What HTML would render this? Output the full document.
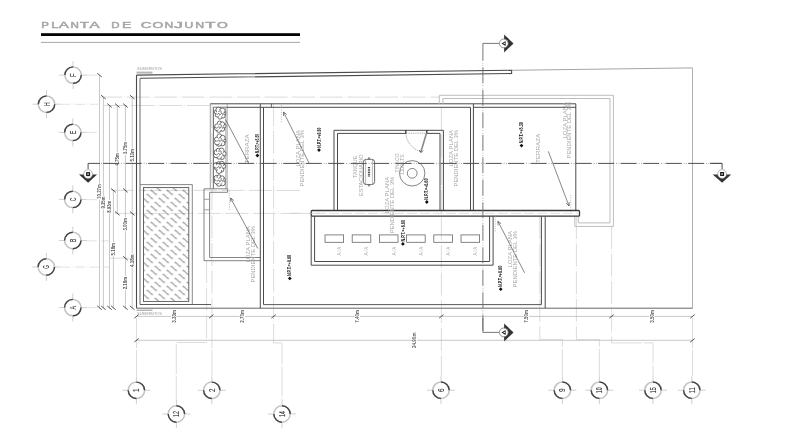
<!DOCTYPE html>
<html><head><meta charset="utf-8"><style>
html,body{margin:0;padding:0;background:#fff;width:800px;height:448px;overflow:hidden}
svg{display:block;font-family:"Liberation Sans",sans-serif;will-change:transform}
</style></head><body>
<svg width="800" height="448" viewBox="0 0 800 448">
<defs><pattern id="hatch" patternUnits="userSpaceOnUse" width="16" height="16" x="146.6" y="242.3"><g stroke="#4c4c4c" stroke-width="0.9" fill="none"><path d="M-16,-16 c3,0 3.25,4.3 6.25,4.3"/><path d="M-16,0 c3,0 3.25,4.3 6.25,4.3"/><path d="M-16,16 c3,0 3.25,4.3 6.25,4.3"/><path d="M0,-16 c3,0 3.25,4.3 6.25,4.3"/><path d="M0,0 c3,0 3.25,4.3 6.25,4.3"/><path d="M0,16 c3,0 3.25,4.3 6.25,4.3"/><path d="M16,-16 c3,0 3.25,4.3 6.25,4.3"/><path d="M16,0 c3,0 3.25,4.3 6.25,4.3"/><path d="M16,16 c3,0 3.25,4.3 6.25,4.3"/><path d="M-4,-12 c3,0 3.25,4.3 6.25,4.3"/><path d="M-4,4 c3,0 3.25,4.3 6.25,4.3"/><path d="M-4,20 c3,0 3.25,4.3 6.25,4.3"/><path d="M12,-12 c3,0 3.25,4.3 6.25,4.3"/><path d="M12,4 c3,0 3.25,4.3 6.25,4.3"/><path d="M12,20 c3,0 3.25,4.3 6.25,4.3"/><path d="M28,-12 c3,0 3.25,4.3 6.25,4.3"/><path d="M28,4 c3,0 3.25,4.3 6.25,4.3"/><path d="M28,20 c3,0 3.25,4.3 6.25,4.3"/><path d="M-8,-8 c3,0 3.25,4.3 6.25,4.3"/><path d="M-8,8 c3,0 3.25,4.3 6.25,4.3"/><path d="M-8,24 c3,0 3.25,4.3 6.25,4.3"/><path d="M8,-8 c3,0 3.25,4.3 6.25,4.3"/><path d="M8,8 c3,0 3.25,4.3 6.25,4.3"/><path d="M8,24 c3,0 3.25,4.3 6.25,4.3"/><path d="M24,-8 c3,0 3.25,4.3 6.25,4.3"/><path d="M24,8 c3,0 3.25,4.3 6.25,4.3"/><path d="M24,24 c3,0 3.25,4.3 6.25,4.3"/><path d="M-12,-4 c3,0 3.25,4.3 6.25,4.3"/><path d="M-12,12 c3,0 3.25,4.3 6.25,4.3"/><path d="M-12,28 c3,0 3.25,4.3 6.25,4.3"/><path d="M4,-4 c3,0 3.25,4.3 6.25,4.3"/><path d="M4,12 c3,0 3.25,4.3 6.25,4.3"/><path d="M4,28 c3,0 3.25,4.3 6.25,4.3"/><path d="M20,-4 c3,0 3.25,4.3 6.25,4.3"/><path d="M20,12 c3,0 3.25,4.3 6.25,4.3"/><path d="M20,28 c3,0 3.25,4.3 6.25,4.3"/></g></pattern></defs>
<rect width="800" height="448" fill="#fff"/>
<text x="41.35" y="27.9" font-size="9.5" fill="#a6a6a6" stroke="#a6a6a6" stroke-width="0.5" textLength="7.65" lengthAdjust="spacingAndGlyphs">P</text>
<text x="51.35" y="27.9" font-size="9.5" fill="#a6a6a6" stroke="#a6a6a6" stroke-width="0.5" textLength="7.05" lengthAdjust="spacingAndGlyphs">L</text>
<text x="58.85" y="27.9" font-size="9.5" fill="#a6a6a6" stroke="#a6a6a6" stroke-width="0.5" textLength="10.15" lengthAdjust="spacingAndGlyphs">A</text>
<text x="70.6" y="27.9" font-size="9.5" fill="#a6a6a6" stroke="#a6a6a6" stroke-width="0.5" textLength="8.4" lengthAdjust="spacingAndGlyphs">N</text>
<text x="80.1" y="27.9" font-size="9.5" fill="#a6a6a6" stroke="#a6a6a6" stroke-width="0.5" textLength="8.9" lengthAdjust="spacingAndGlyphs">T</text>
<text x="89.5" y="27.9" font-size="9.5" fill="#a6a6a6" stroke="#a6a6a6" stroke-width="0.5" textLength="10.15" lengthAdjust="spacingAndGlyphs">A</text>
<text x="111.35" y="27.9" font-size="9.5" fill="#a6a6a6" stroke="#a6a6a6" stroke-width="0.5" textLength="8.3" lengthAdjust="spacingAndGlyphs">D</text>
<text x="122" y="27.9" font-size="9.5" fill="#a6a6a6" stroke="#a6a6a6" stroke-width="0.5" textLength="9.4" lengthAdjust="spacingAndGlyphs">E</text>
<text x="140.85" y="27.9" font-size="9.5" fill="#a6a6a6" stroke="#a6a6a6" stroke-width="0.5" textLength="10.8" lengthAdjust="spacingAndGlyphs">C</text>
<text x="152.6" y="27.9" font-size="9.5" fill="#a6a6a6" stroke="#a6a6a6" stroke-width="0.5" textLength="10.8" lengthAdjust="spacingAndGlyphs">O</text>
<text x="164.6" y="27.9" font-size="9.5" fill="#a6a6a6" stroke="#a6a6a6" stroke-width="0.5" textLength="8.8" lengthAdjust="spacingAndGlyphs">N</text>
<text x="174" y="27.9" font-size="9.5" fill="#a6a6a6" stroke="#a6a6a6" stroke-width="0.5" textLength="8.9" lengthAdjust="spacingAndGlyphs">J</text>
<text x="184.6" y="27.9" font-size="9.5" fill="#a6a6a6" stroke="#a6a6a6" stroke-width="0.5" textLength="8.8" lengthAdjust="spacingAndGlyphs">U</text>
<text x="195.2" y="27.9" font-size="9.5" fill="#a6a6a6" stroke="#a6a6a6" stroke-width="0.5" textLength="8.95" lengthAdjust="spacingAndGlyphs">N</text>
<text x="205.2" y="27.9" font-size="9.5" fill="#a6a6a6" stroke="#a6a6a6" stroke-width="0.5" textLength="10.2" lengthAdjust="spacingAndGlyphs">T</text>
<text x="217.1" y="27.9" font-size="9.5" fill="#a6a6a6" stroke="#a6a6a6" stroke-width="0.5" textLength="10.8" lengthAdjust="spacingAndGlyphs">O</text>
<rect x="41" y="33.2" width="259" height="2.8" rx="0" stroke="none" stroke-width="0" fill="#050505"/>
<line x1="41" y1="42.4" x2="300" y2="42.4" stroke="#9c9c9c" stroke-width="0.9" stroke-linecap="butt"/>
<line x1="87.1" y1="75.1" x2="99" y2="75.1" stroke="#dadada" stroke-width="0.8" stroke-dasharray="10 2 0.6 2" stroke-linecap="butt"/>
<line x1="60.5" y1="104.3" x2="98" y2="104.3" stroke="#dadada" stroke-width="0.8" stroke-dasharray="10 2 0.6 2" stroke-linecap="butt"/>
<line x1="86.8" y1="132.4" x2="100" y2="132.4" stroke="#dadada" stroke-width="0.8" stroke-dasharray="10 2 0.6 2" stroke-linecap="butt"/>
<line x1="86.8" y1="199.6" x2="99" y2="199.6" stroke="#dadada" stroke-width="0.8" stroke-dasharray="10 2 0.6 2" stroke-linecap="butt"/>
<line x1="86.8" y1="240.8" x2="109" y2="240.8" stroke="#dadada" stroke-width="0.8" stroke-dasharray="10 2 0.6 2" stroke-linecap="butt"/>
<line x1="60.3" y1="267.1" x2="109" y2="267.1" stroke="#dadada" stroke-width="0.8" stroke-dasharray="10 2 0.6 2" stroke-linecap="butt"/>
<line x1="86.8" y1="307.6" x2="98" y2="307.6" stroke="#dadada" stroke-width="0.8" stroke-dasharray="10 2 0.6 2" stroke-linecap="butt"/>
<line x1="99" y1="97.1" x2="439" y2="97.1" stroke="#d2d2d2" stroke-width="0.8" stroke-dasharray="23 2 0.6 2" stroke-linecap="butt"/>
<line x1="104" y1="105.5" x2="210" y2="105.5" stroke="#d2d2d2" stroke-width="0.8" stroke-dasharray="23 2 0.6 2" stroke-linecap="butt"/>
<line x1="111" y1="190.4" x2="300" y2="190.4" stroke="#d2d2d2" stroke-width="0.8" stroke-dasharray="23 2 0.6 2" stroke-linecap="butt"/>
<line x1="115" y1="213.4" x2="320" y2="213.4" stroke="#d2d2d2" stroke-width="0.8" stroke-dasharray="23 2 0.6 2" stroke-linecap="butt"/>
<line x1="109" y1="258.2" x2="134" y2="258.2" stroke="#d2d2d2" stroke-width="0.8" stroke-linecap="butt"/>
<line x1="206.6" y1="260" x2="206.6" y2="342.5" stroke="#d2d2d2" stroke-width="0.8" stroke-dasharray="23 2 0.6 2" stroke-linecap="butt"/>
<line x1="211.9" y1="105" x2="211.9" y2="318" stroke="#d2d2d2" stroke-width="0.8" stroke-dasharray="23 2 0.6 2" stroke-linecap="butt"/>
<line x1="273.6" y1="103" x2="273.6" y2="342.9" stroke="#d2d2d2" stroke-width="0.8" stroke-dasharray="23 2 0.6 2" stroke-linecap="butt"/>
<line x1="441.4" y1="107" x2="441.4" y2="376" stroke="#d2d2d2" stroke-width="0.8" stroke-dasharray="23 2 0.6 2" stroke-linecap="butt"/>
<line x1="539.8" y1="216" x2="539.8" y2="339.6" stroke="#d2d2d2" stroke-width="0.8" stroke-dasharray="23 2 0.6 2" stroke-linecap="butt"/>
<line x1="576.4" y1="216" x2="576.4" y2="339.6" stroke="#d2d2d2" stroke-width="0.8" stroke-dasharray="23 2 0.6 2" stroke-linecap="butt"/>
<line x1="611.6" y1="226" x2="611.6" y2="342.9" stroke="#d2d2d2" stroke-width="0.8" stroke-dasharray="23 2 0.6 2" stroke-linecap="butt"/>
<polyline points="206.6,342.5 176.3,342.5 176.3,400" stroke="#cfcfcf" stroke-width="0.7" fill="none" stroke-dasharray="30 2"/>
<polyline points="273.6,342.9 282,342.9 282,400" stroke="#cfcfcf" stroke-width="0.7" fill="none" stroke-dasharray="30 2"/>
<polyline points="539.8,339.6 562.4,339.6 562.4,376" stroke="#cfcfcf" stroke-width="0.7" fill="none" stroke-dasharray="30 2"/>
<polyline points="576.4,339.6 599.4,339.6 599.4,376" stroke="#cfcfcf" stroke-width="0.7" fill="none" stroke-dasharray="30 2"/>
<polyline points="611.6,342.9 653,342.9 653,376" stroke="#cfcfcf" stroke-width="0.7" fill="none" stroke-dasharray="30 2"/>
<line x1="136.5" y1="318" x2="136.5" y2="376" stroke="#cfcfcf" stroke-width="0.7" stroke-dasharray="30 2" stroke-linecap="butt"/>
<line x1="211.9" y1="318" x2="211.9" y2="376" stroke="#cfcfcf" stroke-width="0.7" stroke-dasharray="30 2" stroke-linecap="butt"/>
<line x1="692.5" y1="318" x2="692.5" y2="376" stroke="#cfcfcf" stroke-width="0.7" stroke-dasharray="30 2" stroke-linecap="butt"/>
<line x1="99.5" y1="75.1" x2="99.5" y2="308.5" stroke="#bababa" stroke-width="0.8" stroke-linecap="butt"/>
<line x1="103.4" y1="97.1" x2="103.4" y2="308.5" stroke="#bababa" stroke-width="0.8" stroke-linecap="butt"/>
<line x1="109.5" y1="105.5" x2="109.5" y2="308.5" stroke="#bababa" stroke-width="0.8" stroke-linecap="butt"/>
<line x1="113.4" y1="190.4" x2="113.4" y2="308.5" stroke="#bababa" stroke-width="0.8" stroke-linecap="butt"/>
<line x1="117.3" y1="105.5" x2="117.3" y2="213.9" stroke="#bababa" stroke-width="0.8" stroke-linecap="butt"/>
<line x1="125.4" y1="105.5" x2="125.4" y2="308.5" stroke="#bababa" stroke-width="0.8" stroke-linecap="butt"/>
<line x1="132.2" y1="97.1" x2="132.2" y2="308.5" stroke="#bababa" stroke-width="0.8" stroke-linecap="butt"/>
<line x1="97.2" y1="73.2" x2="101.8" y2="77" stroke="#444" stroke-width="0.9" stroke-linecap="butt"/>
<line x1="101.1" y1="95.2" x2="105.7" y2="99" stroke="#444" stroke-width="0.9" stroke-linecap="butt"/>
<line x1="107.2" y1="103.6" x2="111.8" y2="107.4" stroke="#444" stroke-width="0.9" stroke-linecap="butt"/>
<line x1="115" y1="103.6" x2="119.6" y2="107.4" stroke="#444" stroke-width="0.9" stroke-linecap="butt"/>
<line x1="123.1" y1="103.6" x2="127.7" y2="107.4" stroke="#444" stroke-width="0.9" stroke-linecap="butt"/>
<line x1="129.9" y1="95.2" x2="134.5" y2="99" stroke="#444" stroke-width="0.9" stroke-linecap="butt"/>
<line x1="111.1" y1="188.5" x2="115.7" y2="192.3" stroke="#444" stroke-width="0.9" stroke-linecap="butt"/>
<line x1="123.1" y1="188.5" x2="127.7" y2="192.3" stroke="#444" stroke-width="0.9" stroke-linecap="butt"/>
<line x1="115" y1="211.5" x2="119.6" y2="215.3" stroke="#444" stroke-width="0.9" stroke-linecap="butt"/>
<line x1="129.9" y1="211.5" x2="134.5" y2="215.3" stroke="#444" stroke-width="0.9" stroke-linecap="butt"/>
<line x1="123.1" y1="256.3" x2="127.7" y2="260.1" stroke="#444" stroke-width="0.9" stroke-linecap="butt"/>
<line x1="97.2" y1="305.9" x2="101.8" y2="309.7" stroke="#444" stroke-width="0.9" stroke-linecap="butt"/>
<line x1="101.1" y1="305.9" x2="105.7" y2="309.7" stroke="#444" stroke-width="0.9" stroke-linecap="butt"/>
<line x1="107.2" y1="305.9" x2="111.8" y2="309.7" stroke="#444" stroke-width="0.9" stroke-linecap="butt"/>
<line x1="111.1" y1="305.9" x2="115.7" y2="309.7" stroke="#444" stroke-width="0.9" stroke-linecap="butt"/>
<line x1="123.1" y1="305.9" x2="127.7" y2="309.7" stroke="#444" stroke-width="0.9" stroke-linecap="butt"/>
<line x1="129.9" y1="305.9" x2="134.5" y2="309.7" stroke="#444" stroke-width="0.9" stroke-linecap="butt"/>
<line x1="136.5" y1="316.4" x2="692.5" y2="316.4" stroke="#bababa" stroke-width="0.8" stroke-linecap="butt"/>
<line x1="136.5" y1="340.3" x2="692.5" y2="340.3" stroke="#bababa" stroke-width="0.8" stroke-linecap="butt"/>
<line x1="134.3" y1="318.2" x2="138.7" y2="314.6" stroke="#444" stroke-width="0.9" stroke-linecap="butt"/>
<line x1="209" y1="318.2" x2="213.4" y2="314.6" stroke="#444" stroke-width="0.9" stroke-linecap="butt"/>
<line x1="271.4" y1="318.2" x2="275.8" y2="314.6" stroke="#444" stroke-width="0.9" stroke-linecap="butt"/>
<line x1="439.1" y1="318.2" x2="443.5" y2="314.6" stroke="#444" stroke-width="0.9" stroke-linecap="butt"/>
<line x1="609.3" y1="318.2" x2="613.7" y2="314.6" stroke="#444" stroke-width="0.9" stroke-linecap="butt"/>
<line x1="690.3" y1="318.2" x2="694.7" y2="314.6" stroke="#444" stroke-width="0.9" stroke-linecap="butt"/>
<line x1="134.3" y1="342.1" x2="138.7" y2="338.5" stroke="#444" stroke-width="0.9" stroke-linecap="butt"/>
<line x1="690.3" y1="342.1" x2="694.7" y2="338.5" stroke="#444" stroke-width="0.9" stroke-linecap="butt"/>
<rect x="96.85" y="183.5" width="5.3" height="16.1" fill="#fff"/>
<text transform="translate(101.41,191.55) rotate(-90) scale(1,1)" text-anchor="middle" font-family="Liberation Sans" font-size="5.3" fill="#5a5a5a" font-weight="bold" textLength="14.5" lengthAdjust="spacingAndGlyphs">10.27m</text>
<rect x="100.75" y="195.75" width="5.3" height="13.6" fill="#fff"/>
<text transform="translate(105.31,202.55) rotate(-90) scale(1,1)" text-anchor="middle" font-family="Liberation Sans" font-size="5.3" fill="#5a5a5a" font-weight="bold" textLength="12" lengthAdjust="spacingAndGlyphs">9.35m</text>
<rect x="106.85" y="199.95" width="5.3" height="13.6" fill="#fff"/>
<text transform="translate(111.41,206.75) rotate(-90) scale(1,1)" text-anchor="middle" font-family="Liberation Sans" font-size="5.3" fill="#5a5a5a" font-weight="bold" textLength="12" lengthAdjust="spacingAndGlyphs">8.93m</text>
<rect x="114.65" y="152.4" width="5.3" height="14.1" fill="#fff"/>
<text transform="translate(119.21,159.45) rotate(-90) scale(1,1)" text-anchor="middle" font-family="Liberation Sans" font-size="5.3" fill="#5a5a5a" font-weight="bold" textLength="12.5" lengthAdjust="spacingAndGlyphs">4.75m</text>
<rect x="122.75" y="141.15" width="5.3" height="13.6" fill="#fff"/>
<text transform="translate(127.31,147.95) rotate(-90) scale(1,1)" text-anchor="middle" font-family="Liberation Sans" font-size="5.3" fill="#5a5a5a" font-weight="bold" textLength="12" lengthAdjust="spacingAndGlyphs">3.75m</text>
<rect x="129.55" y="148.2" width="5.3" height="14.1" fill="#fff"/>
<text transform="translate(134.11,155.25) rotate(-90) scale(1,1)" text-anchor="middle" font-family="Liberation Sans" font-size="5.3" fill="#5a5a5a" font-weight="bold" textLength="12.5" lengthAdjust="spacingAndGlyphs">5.13m</text>
<rect x="110.75" y="242.15" width="5.3" height="14.1" fill="#fff"/>
<text transform="translate(115.31,249.2) rotate(-90) scale(1,1)" text-anchor="middle" font-family="Liberation Sans" font-size="5.3" fill="#5a5a5a" font-weight="bold" textLength="12.5" lengthAdjust="spacingAndGlyphs">5.18m</text>
<rect x="122.75" y="217.25" width="5.3" height="14.1" fill="#fff"/>
<text transform="translate(127.31,224.3) rotate(-90) scale(1,1)" text-anchor="middle" font-family="Liberation Sans" font-size="5.3" fill="#5a5a5a" font-weight="bold" textLength="12.5" lengthAdjust="spacingAndGlyphs">3.00m</text>
<rect x="129.55" y="253.65" width="5.3" height="14.1" fill="#fff"/>
<text transform="translate(134.11,260.7) rotate(-90) scale(1,1)" text-anchor="middle" font-family="Liberation Sans" font-size="5.3" fill="#5a5a5a" font-weight="bold" textLength="12.5" lengthAdjust="spacingAndGlyphs">4.18m</text>
<rect x="122.75" y="276.05" width="5.3" height="14.1" fill="#fff"/>
<text transform="translate(127.31,283.1) rotate(-90) scale(1,1)" text-anchor="middle" font-family="Liberation Sans" font-size="5.3" fill="#5a5a5a" font-weight="bold" textLength="12.5" lengthAdjust="spacingAndGlyphs">2.18m</text>
<rect x="171.2" y="309.2" width="5.3" height="14.4" fill="#fff"/>
<text transform="translate(175.76,316.4) rotate(-90) scale(1,1)" text-anchor="middle" font-family="Liberation Sans" font-size="5.3" fill="#5a5a5a" font-weight="bold" textLength="12.8" lengthAdjust="spacingAndGlyphs">3.33m</text>
<rect x="239.75" y="309.2" width="5.3" height="14.4" fill="#fff"/>
<text transform="translate(244.31,316.4) rotate(-90) scale(1,1)" text-anchor="middle" font-family="Liberation Sans" font-size="5.3" fill="#5a5a5a" font-weight="bold" textLength="12.8" lengthAdjust="spacingAndGlyphs">2.70m</text>
<rect x="354.8" y="309.2" width="5.3" height="14.4" fill="#fff"/>
<text transform="translate(359.36,316.4) rotate(-90) scale(1,1)" text-anchor="middle" font-family="Liberation Sans" font-size="5.3" fill="#5a5a5a" font-weight="bold" textLength="12.8" lengthAdjust="spacingAndGlyphs">7.40m</text>
<rect x="523.75" y="309.2" width="5.3" height="14.4" fill="#fff"/>
<text transform="translate(528.31,316.4) rotate(-90) scale(1,1)" text-anchor="middle" font-family="Liberation Sans" font-size="5.3" fill="#5a5a5a" font-weight="bold" textLength="12.8" lengthAdjust="spacingAndGlyphs">7.50m</text>
<rect x="649.35" y="309.2" width="5.3" height="14.4" fill="#fff"/>
<text transform="translate(653.91,316.4) rotate(-90) scale(1,1)" text-anchor="middle" font-family="Liberation Sans" font-size="5.3" fill="#5a5a5a" font-weight="bold" textLength="12.8" lengthAdjust="spacingAndGlyphs">3.50m</text>
<rect x="411.85" y="331.75" width="5.3" height="17.1" fill="#fff"/>
<text transform="translate(416.41,340.3) rotate(-90) scale(1,1)" text-anchor="middle" font-family="Liberation Sans" font-size="5.3" fill="#5a5a5a" font-weight="bold" textLength="15.5" lengthAdjust="spacingAndGlyphs">24.90m</text>
<path d="M136.5,75.1 L511.6,70.3 L511.6,73.54 L140,78.3" stroke="#4a4a4a" stroke-width="1.1" fill="none"/>
<line x1="511.6" y1="70.3" x2="692.5" y2="67.9" stroke="#9a9a9a" stroke-width="0.9" stroke-linecap="butt"/>
<line x1="692.5" y1="67.9" x2="692.5" y2="308.2" stroke="#a8a8a8" stroke-width="0.9" stroke-linecap="butt"/>
<line x1="136.5" y1="75.1" x2="136.5" y2="308.2" stroke="#4a4a4a" stroke-width="1.1" stroke-linecap="butt"/>
<line x1="136.5" y1="308.2" x2="692.5" y2="308.2" stroke="#666" stroke-width="1.0" stroke-linecap="butt"/>
<line x1="140" y1="78.3" x2="140" y2="304.5" stroke="#8a8a8a" stroke-width="1.3" stroke-linecap="butt"/>
<line x1="140" y1="304.5" x2="211" y2="304.5" stroke="#4a4a4a" stroke-width="0.9" stroke-linecap="butt"/>
<rect x="136.5" y="71.6" width="16" height="2" rx="0" stroke="none" stroke-width="0" fill="#b5b5b5"/>
<text x="137" y="70" font-size="3.4" fill="#999" textLength="25" lengthAdjust="spacingAndGlyphs">SUMVENTOS</text>
<rect x="136.5" y="309.6" width="16" height="1.4" rx="0" stroke="none" stroke-width="0" fill="#b5b5b5"/>
<text x="137" y="314.6" font-size="3.4" fill="#999" textLength="25" lengthAdjust="spacingAndGlyphs">SUMVENTOS</text>
<rect x="143.5" y="187.6" width="45.3" height="113.8" rx="0" stroke="none" stroke-width="0" fill="url(#hatch)"/>
<rect x="143.5" y="187.6" width="45.3" height="113.8" rx="0" stroke="#555" stroke-width="0.9" fill="none"/>
<polyline points="140,184.6 192.3,184.6 192.3,304.5" stroke="#7a7a7a" stroke-width="0.9" fill="none"/>
<line x1="210.3" y1="103.9" x2="210.3" y2="188.8" stroke="#888" stroke-width="0.8" stroke-linecap="butt"/>
<line x1="213.4" y1="107.2" x2="213.4" y2="188.8" stroke="#444" stroke-width="0.8" stroke-linecap="butt"/>
<line x1="225.9" y1="107.2" x2="225.9" y2="188.8" stroke="#777" stroke-width="0.7" stroke-linecap="butt"/>
<line x1="227.3" y1="103.9" x2="227.3" y2="188.8" stroke="#999" stroke-width="0.7" stroke-linecap="butt"/>
<line x1="213.4" y1="107.2" x2="226.8" y2="107.2" stroke="#555" stroke-width="0.8" stroke-linecap="butt"/>
<polyline points="204,188.8 227.6,188.8 227.6,192.3 209.6,192.3" stroke="#777" stroke-width="0.9" fill="none"/>
<circle cx="223.34" cy="113.21" r="2.49" stroke="#4a4a4a" stroke-width="0.8" fill="#fff"/>
<circle cx="222.9" cy="115.86" r="2.23" stroke="#4a4a4a" stroke-width="0.8" fill="#fff"/>
<circle cx="219.99" cy="117.21" r="1.93" stroke="#4a4a4a" stroke-width="0.8" fill="#fff"/>
<circle cx="217.1" cy="115.02" r="1.98" stroke="#4a4a4a" stroke-width="0.8" fill="#fff"/>
<circle cx="216.31" cy="111.89" r="2.01" stroke="#4a4a4a" stroke-width="0.8" fill="#fff"/>
<circle cx="218.64" cy="109.92" r="2.75" stroke="#4a4a4a" stroke-width="0.8" fill="#fff"/>
<circle cx="222.35" cy="110.78" r="2.78" stroke="#4a4a4a" stroke-width="0.8" fill="#fff"/>
<circle cx="220" cy="113.5" r="3.3" fill="#fff"/>
<path d="M220.48,114.66 a1.2,1.2 0 1 1 1.9,0.9" stroke="#4a4a4a" stroke-width="0.75" fill="none"/>
<path d="M217.36,114.74 a1.2,1.2 0 1 1 1.9,0.9" stroke="#4a4a4a" stroke-width="0.75" fill="none"/>
<path d="M218.86,112 a1.2,1.2 0 1 1 1.9,0.9" stroke="#4a4a4a" stroke-width="0.75" fill="none"/>
<circle cx="223.95" cy="125.94" r="2.16" stroke="#4a4a4a" stroke-width="0.8" fill="#fff"/>
<circle cx="222.49" cy="129.04" r="2.18" stroke="#4a4a4a" stroke-width="0.8" fill="#fff"/>
<circle cx="218.74" cy="129.99" r="2.42" stroke="#4a4a4a" stroke-width="0.8" fill="#fff"/>
<circle cx="216.68" cy="128.17" r="2.39" stroke="#4a4a4a" stroke-width="0.8" fill="#fff"/>
<circle cx="216.83" cy="126.11" r="2.09" stroke="#4a4a4a" stroke-width="0.8" fill="#fff"/>
<circle cx="219.51" cy="123.26" r="2.18" stroke="#4a4a4a" stroke-width="0.8" fill="#fff"/>
<circle cx="222.4" cy="124.09" r="2.17" stroke="#4a4a4a" stroke-width="0.8" fill="#fff"/>
<circle cx="220" cy="126.85" r="3.3" fill="#fff"/>
<path d="M220.48,128.01 a1.2,1.2 0 1 1 1.9,0.9" stroke="#4a4a4a" stroke-width="0.75" fill="none"/>
<path d="M217.36,128.09 a1.2,1.2 0 1 1 1.9,0.9" stroke="#4a4a4a" stroke-width="0.75" fill="none"/>
<path d="M218.86,125.35 a1.2,1.2 0 1 1 1.9,0.9" stroke="#4a4a4a" stroke-width="0.75" fill="none"/>
<circle cx="223.86" cy="140.77" r="2.12" stroke="#4a4a4a" stroke-width="0.8" fill="#fff"/>
<circle cx="222.21" cy="143.2" r="2.69" stroke="#4a4a4a" stroke-width="0.8" fill="#fff"/>
<circle cx="218.84" cy="143.49" r="2.78" stroke="#4a4a4a" stroke-width="0.8" fill="#fff"/>
<circle cx="217.1" cy="142.36" r="2.58" stroke="#4a4a4a" stroke-width="0.8" fill="#fff"/>
<circle cx="216.45" cy="139.2" r="1.94" stroke="#4a4a4a" stroke-width="0.8" fill="#fff"/>
<circle cx="219.45" cy="136.27" r="2.42" stroke="#4a4a4a" stroke-width="0.8" fill="#fff"/>
<circle cx="222.67" cy="137.91" r="2.53" stroke="#4a4a4a" stroke-width="0.8" fill="#fff"/>
<circle cx="220" cy="140.2" r="3.3" fill="#fff"/>
<path d="M220.48,141.36 a1.2,1.2 0 1 1 1.9,0.9" stroke="#4a4a4a" stroke-width="0.75" fill="none"/>
<path d="M217.36,141.44 a1.2,1.2 0 1 1 1.9,0.9" stroke="#4a4a4a" stroke-width="0.75" fill="none"/>
<path d="M218.86,138.7 a1.2,1.2 0 1 1 1.9,0.9" stroke="#4a4a4a" stroke-width="0.75" fill="none"/>
<circle cx="223.78" cy="153.73" r="2.31" stroke="#4a4a4a" stroke-width="0.8" fill="#fff"/>
<circle cx="222" cy="157.18" r="2.33" stroke="#4a4a4a" stroke-width="0.8" fill="#fff"/>
<circle cx="219.02" cy="156.66" r="2.53" stroke="#4a4a4a" stroke-width="0.8" fill="#fff"/>
<circle cx="216.1" cy="155.09" r="2.64" stroke="#4a4a4a" stroke-width="0.8" fill="#fff"/>
<circle cx="216.62" cy="152.35" r="2.5" stroke="#4a4a4a" stroke-width="0.8" fill="#fff"/>
<circle cx="218.36" cy="150.27" r="2.05" stroke="#4a4a4a" stroke-width="0.8" fill="#fff"/>
<circle cx="221.51" cy="150.66" r="2.59" stroke="#4a4a4a" stroke-width="0.8" fill="#fff"/>
<circle cx="220" cy="153.55" r="3.3" fill="#fff"/>
<path d="M220.48,154.71 a1.2,1.2 0 1 1 1.9,0.9" stroke="#4a4a4a" stroke-width="0.75" fill="none"/>
<path d="M217.36,154.79 a1.2,1.2 0 1 1 1.9,0.9" stroke="#4a4a4a" stroke-width="0.75" fill="none"/>
<path d="M218.86,152.05 a1.2,1.2 0 1 1 1.9,0.9" stroke="#4a4a4a" stroke-width="0.75" fill="none"/>
<circle cx="223.39" cy="166.26" r="2.25" stroke="#4a4a4a" stroke-width="0.8" fill="#fff"/>
<circle cx="221.54" cy="169.8" r="2.3" stroke="#4a4a4a" stroke-width="0.8" fill="#fff"/>
<circle cx="218.99" cy="170.86" r="2.64" stroke="#4a4a4a" stroke-width="0.8" fill="#fff"/>
<circle cx="216.64" cy="167.82" r="2.27" stroke="#4a4a4a" stroke-width="0.8" fill="#fff"/>
<circle cx="216.2" cy="165.39" r="2.76" stroke="#4a4a4a" stroke-width="0.8" fill="#fff"/>
<circle cx="218.69" cy="163.79" r="2.11" stroke="#4a4a4a" stroke-width="0.8" fill="#fff"/>
<circle cx="221.89" cy="163.74" r="2.43" stroke="#4a4a4a" stroke-width="0.8" fill="#fff"/>
<circle cx="220" cy="166.9" r="3.3" fill="#fff"/>
<path d="M220.48,168.06 a1.2,1.2 0 1 1 1.9,0.9" stroke="#4a4a4a" stroke-width="0.75" fill="none"/>
<path d="M217.36,168.14 a1.2,1.2 0 1 1 1.9,0.9" stroke="#4a4a4a" stroke-width="0.75" fill="none"/>
<path d="M218.86,165.4 a1.2,1.2 0 1 1 1.9,0.9" stroke="#4a4a4a" stroke-width="0.75" fill="none"/>
<circle cx="223.18" cy="179.87" r="2.28" stroke="#4a4a4a" stroke-width="0.8" fill="#fff"/>
<circle cx="222.54" cy="183.03" r="2.76" stroke="#4a4a4a" stroke-width="0.8" fill="#fff"/>
<circle cx="218.83" cy="183.78" r="2.46" stroke="#4a4a4a" stroke-width="0.8" fill="#fff"/>
<circle cx="216.96" cy="181.4" r="2.71" stroke="#4a4a4a" stroke-width="0.8" fill="#fff"/>
<circle cx="216.61" cy="177.99" r="2.62" stroke="#4a4a4a" stroke-width="0.8" fill="#fff"/>
<circle cx="219.01" cy="176.79" r="1.99" stroke="#4a4a4a" stroke-width="0.8" fill="#fff"/>
<circle cx="222.2" cy="177.84" r="1.96" stroke="#4a4a4a" stroke-width="0.8" fill="#fff"/>
<circle cx="220" cy="180.25" r="3.3" fill="#fff"/>
<path d="M220.48,181.41 a1.2,1.2 0 1 1 1.9,0.9" stroke="#4a4a4a" stroke-width="0.75" fill="none"/>
<path d="M217.36,181.49 a1.2,1.2 0 1 1 1.9,0.9" stroke="#4a4a4a" stroke-width="0.75" fill="none"/>
<path d="M218.86,178.75 a1.2,1.2 0 1 1 1.9,0.9" stroke="#4a4a4a" stroke-width="0.75" fill="none"/>
<polyline points="204,188.8 204,260.7 260,260.7" stroke="#777" stroke-width="0.9" fill="none"/>
<polyline points="209.6,192.3 209.6,257.5 260,257.5" stroke="#777" stroke-width="0.9" fill="none"/>
<line x1="204" y1="199.3" x2="209.6" y2="199.3" stroke="#888" stroke-width="0.8" stroke-linecap="butt"/>
<line x1="204" y1="209.8" x2="209.6" y2="209.8" stroke="#888" stroke-width="0.8" stroke-linecap="butt"/>
<line x1="260.3" y1="103.9" x2="260.3" y2="308.2" stroke="#4a4a4a" stroke-width="1.0" stroke-linecap="butt"/>
<line x1="263.5" y1="107.4" x2="263.5" y2="304.6" stroke="#4a4a4a" stroke-width="1.0" stroke-linecap="butt"/>
<line x1="263.5" y1="304.6" x2="541.4" y2="304.6" stroke="#5a5a5a" stroke-width="1.0" stroke-linecap="butt"/>
<line x1="210.3" y1="103.8" x2="575.8" y2="103.8" stroke="#4a4a4a" stroke-width="1.0" stroke-linecap="butt"/>
<polyline points="226.8,107.3 470.5,107.3 470.5,210.5" stroke="#4a4a4a" stroke-width="1.0" fill="none"/>
<line x1="473.4" y1="103.8" x2="473.4" y2="210.5" stroke="#4a4a4a" stroke-width="1.0" stroke-linecap="butt"/>
<line x1="473.4" y1="107.3" x2="575.8" y2="107.3" stroke="#4a4a4a" stroke-width="1.0" stroke-linecap="butt"/>
<line x1="575.8" y1="103.8" x2="575.8" y2="210.5" stroke="#4a4a4a" stroke-width="1.0" stroke-linecap="butt"/>
<line x1="271.4" y1="103.8" x2="271.4" y2="107.3" stroke="#4a4a4a" stroke-width="0.8" stroke-linecap="butt"/>
<polyline points="439.3,103.8 439.3,95.3 613.4,95.3 613.4,226.4 574.8,226.4 574.8,216.5" stroke="#bdbdbd" stroke-width="1.0" fill="none"/>
<polyline points="442.9,103.8 442.9,98.5 610,98.5 610,222.9 578.3,222.9 578.3,216.5" stroke="#bdbdbd" stroke-width="1.0" fill="none"/>
<polyline points="443.4,210.5 443.4,130.3 334,130.3 334,210.5" stroke="#4a4a4a" stroke-width="1.0" fill="none"/>
<polyline points="405.8,133.4 337.5,133.4 337.5,210.5" stroke="#4a4a4a" stroke-width="1.0" fill="none"/>
<polyline points="426.8,133.4 440,133.4 440,210.5" stroke="#4a4a4a" stroke-width="1.0" fill="none"/>
<line x1="405.8" y1="130.3" x2="405.8" y2="133.6" stroke="#222" stroke-width="1.2" stroke-linecap="butt"/>
<line x1="426.8" y1="130.3" x2="426.8" y2="133.6" stroke="#222" stroke-width="1.2" stroke-linecap="butt"/>
<line x1="405.8" y1="133.2" x2="426.8" y2="133.2" stroke="#666" stroke-width="0.6" stroke-dasharray="1 0.8" stroke-linecap="butt"/>
<line x1="426.4" y1="133.4" x2="421" y2="151.5" stroke="#888" stroke-width="1.6" stroke-linecap="butt"/>
<path d="M405.8,133.4 A21,21 0 0 0 421.2,151.8" stroke="#555" stroke-width="0.55" fill="none" stroke-dasharray="1.2 0.9"/>
<path d="M419.3,150 L421,152.6 L423,150.6" stroke="#333" stroke-width="0.8" fill="none"/>
<rect x="311.2" y="210.5" width="268.3" height="5.7" rx="1" stroke="#383838" stroke-width="1.3" fill="none"/>
<line x1="290" y1="213.3" x2="578" y2="213.3" stroke="#c8c8c8" stroke-width="0.6" stroke-dasharray="10 3" stroke-linecap="butt"/>
<polyline points="311.2,216.2 311.2,265.2 493.1,265.2 493.1,216.2" stroke="#4a4a4a" stroke-width="1.0" fill="none"/>
<polyline points="314.6,216.2 314.6,261.5 489.6,261.5 489.6,216.2" stroke="#4a4a4a" stroke-width="1.0" fill="none"/>
<rect x="325" y="234.9" width="18.6" height="7.4" rx="0" stroke="#666" stroke-width="0.8" fill="none"/>
<text transform="translate(341.12,251) rotate(-90) scale(1,1)" text-anchor="middle" font-family="Liberation Sans" font-size="4.5" fill="#a6a6a6" font-weight="normal" textLength="8.8" lengthAdjust="spacing">A/A</text>
<rect x="352.2" y="234.9" width="18.6" height="7.4" rx="0" stroke="#666" stroke-width="0.8" fill="none"/>
<text transform="translate(368.32,251) rotate(-90) scale(1,1)" text-anchor="middle" font-family="Liberation Sans" font-size="4.5" fill="#a6a6a6" font-weight="normal" textLength="8.8" lengthAdjust="spacing">A/A</text>
<rect x="379.4" y="234.9" width="18.6" height="7.4" rx="0" stroke="#666" stroke-width="0.8" fill="none"/>
<text transform="translate(395.52,251) rotate(-90) scale(1,1)" text-anchor="middle" font-family="Liberation Sans" font-size="4.5" fill="#a6a6a6" font-weight="normal" textLength="8.8" lengthAdjust="spacing">A/A</text>
<rect x="406.6" y="234.9" width="18.6" height="7.4" rx="0" stroke="#666" stroke-width="0.8" fill="none"/>
<text transform="translate(422.72,251) rotate(-90) scale(1,1)" text-anchor="middle" font-family="Liberation Sans" font-size="4.5" fill="#a6a6a6" font-weight="normal" textLength="8.8" lengthAdjust="spacing">A/A</text>
<rect x="433.8" y="234.9" width="18.6" height="7.4" rx="0" stroke="#666" stroke-width="0.8" fill="none"/>
<text transform="translate(449.92,251) rotate(-90) scale(1,1)" text-anchor="middle" font-family="Liberation Sans" font-size="4.5" fill="#a6a6a6" font-weight="normal" textLength="8.8" lengthAdjust="spacing">A/A</text>
<rect x="461" y="234.9" width="18.6" height="7.4" rx="0" stroke="#666" stroke-width="0.8" fill="none"/>
<text transform="translate(477.12,251) rotate(-90) scale(1,1)" text-anchor="middle" font-family="Liberation Sans" font-size="4.5" fill="#a6a6a6" font-weight="normal" textLength="8.8" lengthAdjust="spacing">A/A</text>
<line x1="541.4" y1="216.2" x2="541.4" y2="304.6" stroke="#4a4a4a" stroke-width="1.0" stroke-linecap="butt"/>
<line x1="545.2" y1="216.2" x2="545.2" y2="308.2" stroke="#4a4a4a" stroke-width="1.0" stroke-linecap="butt"/>
<rect x="363.4" y="159.3" width="11.2" height="25.3" rx="3" stroke="#555" stroke-width="0.9" fill="#fff"/>
<line x1="365.6" y1="160" x2="365.6" y2="184" stroke="#888" stroke-width="0.6" stroke-linecap="butt"/>
<line x1="372.4" y1="160" x2="372.4" y2="184" stroke="#888" stroke-width="0.6" stroke-linecap="butt"/>
<line x1="369" y1="157.3" x2="369" y2="159.3" stroke="#555" stroke-width="1.2" stroke-linecap="butt"/>
<line x1="369" y1="184.6" x2="369" y2="186.6" stroke="#555" stroke-width="1.2" stroke-linecap="butt"/>
<rect x="367.9" y="167" width="2.2" height="1" rx="0" stroke="none" stroke-width="0" fill="#444"/>
<rect x="367.9" y="168.7" width="2.2" height="1" rx="0" stroke="none" stroke-width="0" fill="#444"/>
<rect x="367.9" y="170.4" width="2.2" height="1" rx="0" stroke="none" stroke-width="0" fill="#444"/>
<rect x="367.9" y="172.1" width="2.2" height="1" rx="0" stroke="none" stroke-width="0" fill="#444"/>
<rect x="367.9" y="173.8" width="2.2" height="1" rx="0" stroke="none" stroke-width="0" fill="#444"/>
<rect x="367.9" y="175.5" width="2.2" height="1" rx="0" stroke="none" stroke-width="0" fill="#444"/>
<circle cx="412.2" cy="173.3" r="12.7" stroke="#666" stroke-width="0.8" fill="none"/>
<circle cx="412.2" cy="173.3" r="4.9" stroke="#666" stroke-width="0.8" fill="none"/>
<text transform="translate(249.42,148.85) rotate(-90) scale(1,1)" text-anchor="middle" font-family="Liberation Sans" font-size="4.5" fill="#a6a6a6" font-weight="normal" textLength="28.7" lengthAdjust="spacingAndGlyphs">TERRAZA</text>
<text transform="translate(539.62,148.35) rotate(-90) scale(1,1)" text-anchor="middle" font-family="Liberation Sans" font-size="4.5" fill="#a6a6a6" font-weight="normal" textLength="29.3" lengthAdjust="spacingAndGlyphs">TERRAZA</text>
<text transform="translate(299.62,148.25) rotate(-90) scale(1,1)" text-anchor="middle" font-family="Liberation Sans" font-size="4.5" fill="#a6a6a6" font-weight="normal" textLength="36.5" lengthAdjust="spacingAndGlyphs">LOZA PLANA</text>
<text transform="translate(304.42,158.25) rotate(-90) scale(1,1)" text-anchor="middle" font-family="Liberation Sans" font-size="4.5" fill="#a6a6a6" font-weight="normal" textLength="56.5" lengthAdjust="spacingAndGlyphs">PENDIENTE DEL 3%</text>
<text transform="translate(389.02,195.05) rotate(-90) scale(1,1)" text-anchor="middle" font-family="Liberation Sans" font-size="4.5" fill="#a6a6a6" font-weight="normal" textLength="36.5" lengthAdjust="spacingAndGlyphs">LOZA PLANA</text>
<text transform="translate(393.72,205.05) rotate(-90) scale(1,1)" text-anchor="middle" font-family="Liberation Sans" font-size="4.5" fill="#a6a6a6" font-weight="normal" textLength="56.5" lengthAdjust="spacingAndGlyphs">PENDIENTE DEL 3%</text>
<text transform="translate(452.92,148.25) rotate(-90) scale(1,1)" text-anchor="middle" font-family="Liberation Sans" font-size="4.5" fill="#a6a6a6" font-weight="normal" textLength="36.5" lengthAdjust="spacingAndGlyphs">LOZA PLANA</text>
<text transform="translate(458.02,158.25) rotate(-90) scale(1,1)" text-anchor="middle" font-family="Liberation Sans" font-size="4.5" fill="#a6a6a6" font-weight="normal" textLength="56.5" lengthAdjust="spacingAndGlyphs">PENDIENTE DEL 3%</text>
<text transform="translate(566.62,120.25) rotate(-90) scale(1,1)" text-anchor="middle" font-family="Liberation Sans" font-size="4.5" fill="#a6a6a6" font-weight="normal" textLength="36.5" lengthAdjust="spacingAndGlyphs">LOZA PLANA</text>
<text transform="translate(571.42,130.25) rotate(-90) scale(1,1)" text-anchor="middle" font-family="Liberation Sans" font-size="4.5" fill="#a6a6a6" font-weight="normal" textLength="56.5" lengthAdjust="spacingAndGlyphs">PENDIENTE DEL 3%</text>
<text transform="translate(512.02,249.15) rotate(-90) scale(1,1)" text-anchor="middle" font-family="Liberation Sans" font-size="4.5" fill="#a6a6a6" font-weight="normal" textLength="36.5" lengthAdjust="spacingAndGlyphs">LOZA PLANA</text>
<text transform="translate(517.02,259.15) rotate(-90) scale(1,1)" text-anchor="middle" font-family="Liberation Sans" font-size="4.5" fill="#a6a6a6" font-weight="normal" textLength="56.5" lengthAdjust="spacingAndGlyphs">PENDIENTE DEL 3%</text>
<text transform="translate(250.22,244.25) rotate(-90) scale(1,1)" text-anchor="middle" font-family="Liberation Sans" font-size="4.5" fill="#a6a6a6" font-weight="normal" textLength="36.5" lengthAdjust="spacingAndGlyphs">LOZA PLANA</text>
<text transform="translate(255.32,254.25) rotate(-90) scale(1,1)" text-anchor="middle" font-family="Liberation Sans" font-size="4.5" fill="#a6a6a6" font-weight="normal" textLength="56.5" lengthAdjust="spacingAndGlyphs">PENDIENTE DEL 3%</text>
<text transform="translate(357.22,166.75) rotate(-90) scale(1,1)" text-anchor="middle" font-family="Liberation Sans" font-size="4.5" fill="#a6a6a6" font-weight="normal" textLength="22.3" lengthAdjust="spacingAndGlyphs">TANQUE</text>
<text transform="translate(362.52,175.2) rotate(-90) scale(1,1)" text-anchor="middle" font-family="Liberation Sans" font-size="4.5" fill="#a6a6a6" font-weight="normal" textLength="41.4" lengthAdjust="spacingAndGlyphs">ESTACIONARIO</text>
<text transform="translate(398.82,163.05) rotate(-90) scale(1,1)" text-anchor="middle" font-family="Liberation Sans" font-size="4.5" fill="#a6a6a6" font-weight="normal" textLength="19.1" lengthAdjust="spacingAndGlyphs">TINACO</text>
<text transform="translate(404.02,164.6) rotate(-90) scale(1,1)" text-anchor="middle" font-family="Liberation Sans" font-size="4.5" fill="#a6a6a6" font-weight="normal" textLength="20.2" lengthAdjust="spacingAndGlyphs">1100 LTS</text>
<path d="M257.4,157.4 l-1.9,-1.9 l1.9,-1.9 l1.9,1.9 z" fill="#111"/>
<text transform="translate(259.02,143.5) rotate(-90) scale(1,1)" text-anchor="middle" font-family="Liberation Sans" font-size="4.5" fill="#111" font-weight="bold" textLength="19.4" lengthAdjust="spacingAndGlyphs">N.P.T.=+6.60</text>
<path d="M319,152 l-1.9,-1.9 l1.9,-1.9 l1.9,1.9 z" fill="#111"/>
<text transform="translate(320.62,137.7) rotate(-90) scale(1,1)" text-anchor="middle" font-family="Liberation Sans" font-size="4.5" fill="#111" font-weight="bold" textLength="20.2" lengthAdjust="spacingAndGlyphs">N.P.T.=+6.60</text>
<path d="M426.8,203.9 l-1.9,-1.9 l1.9,-1.9 l1.9,1.9 z" fill="#111"/>
<text transform="translate(428.42,189.1) rotate(-90) scale(1,1)" text-anchor="middle" font-family="Liberation Sans" font-size="4.5" fill="#111" font-weight="bold" textLength="21.2" lengthAdjust="spacingAndGlyphs">N.P.T.=+6.60</text>
<path d="M402.9,245.8 l-1.9,-1.9 l1.9,-1.9 l1.9,1.9 z" fill="#111"/>
<text transform="translate(404.52,230.8) rotate(-90) scale(1,1)" text-anchor="middle" font-family="Liberation Sans" font-size="4.5" fill="#111" font-weight="bold" textLength="21.6" lengthAdjust="spacingAndGlyphs">N.P.T.=+6.60</text>
<path d="M521.5,147.5 l-1.9,-1.9 l1.9,-1.9 l1.9,1.9 z" fill="#111"/>
<text transform="translate(523.12,132.75) rotate(-90) scale(1,1)" text-anchor="middle" font-family="Liberation Sans" font-size="4.5" fill="#111" font-weight="bold" textLength="21.1" lengthAdjust="spacingAndGlyphs">N.P.T.=+5.30</text>
<path d="M289.8,280.3 l-1.9,-1.9 l1.9,-1.9 l1.9,1.9 z" fill="#111"/>
<text transform="translate(291.42,265.5) rotate(-90) scale(1,1)" text-anchor="middle" font-family="Liberation Sans" font-size="4.5" fill="#111" font-weight="bold" textLength="21.2" lengthAdjust="spacingAndGlyphs">N.P.T.=+6.60</text>
<path d="M500.7,291.1 l-1.9,-1.9 l1.9,-1.9 l1.9,1.9 z" fill="#111"/>
<text transform="translate(502.32,276.35) rotate(-90) scale(1,1)" text-anchor="middle" font-family="Liberation Sans" font-size="4.5" fill="#111" font-weight="bold" textLength="21.1" lengthAdjust="spacingAndGlyphs">N.P.T.=+6.60</text>
<line x1="225.5" y1="119.5" x2="248.8" y2="163.3" stroke="#555" stroke-width="0.7" stroke-linecap="butt"/>
<line x1="283.5" y1="112" x2="309.2" y2="163.3" stroke="#555" stroke-width="0.7" stroke-linecap="butt"/>
<line x1="283.5" y1="112" x2="283.61" y2="116" stroke="#555" stroke-width="0.7" stroke-linecap="butt"/>
<line x1="283.5" y1="112" x2="286.64" y2="114.48" stroke="#555" stroke-width="0.7" stroke-linecap="butt"/>
<line x1="230.6" y1="198" x2="257.8" y2="248.5" stroke="#555" stroke-width="0.7" stroke-linecap="butt"/>
<line x1="230.6" y1="198" x2="230.83" y2="201.99" stroke="#555" stroke-width="0.7" stroke-linecap="butt"/>
<line x1="230.6" y1="198" x2="233.81" y2="200.39" stroke="#555" stroke-width="0.7" stroke-linecap="butt"/>
<line x1="497.9" y1="221.3" x2="524.6" y2="272.8" stroke="#555" stroke-width="0.7" stroke-linecap="butt"/>
<line x1="497.9" y1="221.3" x2="498.07" y2="225.3" stroke="#555" stroke-width="0.7" stroke-linecap="butt"/>
<line x1="497.9" y1="221.3" x2="501.07" y2="223.74" stroke="#555" stroke-width="0.7" stroke-linecap="butt"/>
<line x1="569" y1="206" x2="548.3" y2="151.3" stroke="#555" stroke-width="0.7" stroke-linecap="butt"/>
<line x1="569" y1="206" x2="569.3" y2="202.01" stroke="#555" stroke-width="0.7" stroke-linecap="butt"/>
<line x1="569" y1="206" x2="566.14" y2="203.21" stroke="#555" stroke-width="0.7" stroke-linecap="butt"/>
<line x1="281.4" y1="105" x2="281.4" y2="123" stroke="#aaa" stroke-width="0.8" stroke-dasharray="1 1.3" stroke-linecap="butt"/>
<line x1="229.4" y1="190.5" x2="229.4" y2="209.8" stroke="#aaa" stroke-width="0.8" stroke-dasharray="1 1.3" stroke-linecap="butt"/>
<line x1="495.3" y1="216.5" x2="495.3" y2="232" stroke="#aaa" stroke-width="0.8" stroke-dasharray="1 1.3" stroke-linecap="butt"/>
<line x1="570.8" y1="195" x2="570.8" y2="212" stroke="#aaa" stroke-width="0.8" stroke-dasharray="1 1.3" stroke-linecap="butt"/>
<polyline points="88.1,169 88.1,163.4 100,163.4" stroke="#505050" stroke-width="1" fill="none"/>
<line x1="100" y1="163.4" x2="722.1" y2="163.4" stroke="#505050" stroke-width="1" stroke-dasharray="16 2.1 0.5 2 0.5 1.4" stroke-dashoffset="-3.2" stroke-linecap="butt"/>
<polyline points="710,163.4 722.1,163.4 722.1,169" stroke="#505050" stroke-width="1" fill="none"/>
<polyline points="499.1,43.4 482.9,43.4 482.9,45" stroke="#6a6a6a" stroke-width="0.9" fill="none"/>
<line x1="482.9" y1="44.8" x2="482.9" y2="332.4" stroke="#666" stroke-width="0.9" stroke-dasharray="16 2.1 0.5 2 0.5 1.4" stroke-linecap="butt"/>
<polyline points="482.9,318 482.9,332.4 499,332.4" stroke="#6a6a6a" stroke-width="0.9" fill="none"/>
<polygon points="79,174.4 97.1,174.4 88.1,182.8" fill="#333"/>
<circle cx="88.1" cy="174.1" r="4.4" fill="#fff" stroke="#888" stroke-width="0.6"/>
<rect x="86.1" y="172.1" width="4" height="4" fill="#1e1e1e"/>
<rect x="87.3" y="173.2" width="1.6" height="1.8" fill="#aaa"/>
<polygon points="712.7,174.4 731.2,174.4 722.1,182.8" fill="#333"/>
<circle cx="722.1" cy="174" r="4.4" fill="#fff" stroke="#888" stroke-width="0.6"/>
<rect x="720.1" y="172" width="4" height="4" fill="#1e1e1e"/>
<rect x="721.3" y="173.1" width="1.6" height="1.8" fill="#aaa"/>
<polygon points="504.1,34.4 504.1,52.4 513.5,43.4" fill="#333"/>
<circle cx="503.8" cy="43.4" r="4.4" fill="#fff" stroke="#666" stroke-width="0.7"/>
<path d="M501.4,43.4 L505.6,40.9 L505.6,45.9 z" fill="#222"/>
<rect x="503.6" y="42.8" width="1.4" height="1.2" fill="#ddd"/>
<polygon points="504.1,323.4 504.1,341.4 513.5,332.4" fill="#333"/>
<circle cx="503.8" cy="332.4" r="4.4" fill="#fff" stroke="#666" stroke-width="0.7"/>
<path d="M501.4,332.4 L505.6,329.9 L505.6,334.9 z" fill="#222"/>
<rect x="503.6" y="331.8" width="1.4" height="1.2" fill="#ddd"/>
<g stroke="#c4c4c4" stroke-width="0.8"><line x1="59.1" y1="75.1" x2="64.9" y2="75.1"/><line x1="81.3" y1="75.1" x2="87.1" y2="75.1"/><line x1="73.1" y1="61.1" x2="73.1" y2="66.9"/><line x1="73.1" y1="83.3" x2="73.1" y2="89.1"/></g>
<circle cx="73.1" cy="75.1" r="8.2" stroke="#c2c2c2" stroke-width="1.5" fill="#fff"/>
<path d="M64.9,75.1 A8.2,8.2 0 0 1 73.1,66.9" stroke="#444" stroke-width="1.4" fill="none"/>
<path d="M81.3,75.1 A8.2,8.2 0 0 1 73.1,83.3" stroke="#444" stroke-width="1.4" fill="none"/>
<text transform="translate(76.1,75.1) rotate(-90)" text-anchor="middle" font-size="8.4" fill="#333" stroke="#333" stroke-width="0.1" textLength="3.6" lengthAdjust="spacingAndGlyphs">F</text>
<g stroke="#c4c4c4" stroke-width="0.8"><line x1="32.5" y1="104.2" x2="38.3" y2="104.2"/><line x1="54.7" y1="104.2" x2="60.5" y2="104.2"/><line x1="46.5" y1="90.2" x2="46.5" y2="96"/><line x1="46.5" y1="112.4" x2="46.5" y2="118.2"/></g>
<circle cx="46.5" cy="104.2" r="8.2" stroke="#c2c2c2" stroke-width="1.5" fill="#fff"/>
<path d="M38.3,104.2 A8.2,8.2 0 0 1 46.5,96" stroke="#444" stroke-width="1.4" fill="none"/>
<path d="M54.7,104.2 A8.2,8.2 0 0 1 46.5,112.4" stroke="#444" stroke-width="1.4" fill="none"/>
<text transform="translate(49.5,104.2) rotate(-90)" text-anchor="middle" font-size="8.4" fill="#333" stroke="#333" stroke-width="0.1" textLength="3.6" lengthAdjust="spacingAndGlyphs">H</text>
<g stroke="#c4c4c4" stroke-width="0.8"><line x1="58.8" y1="132.4" x2="64.6" y2="132.4"/><line x1="81" y1="132.4" x2="86.8" y2="132.4"/><line x1="72.8" y1="118.4" x2="72.8" y2="124.2"/><line x1="72.8" y1="140.6" x2="72.8" y2="146.4"/></g>
<circle cx="72.8" cy="132.4" r="8.2" stroke="#c2c2c2" stroke-width="1.5" fill="#fff"/>
<path d="M64.6,132.4 A8.2,8.2 0 0 1 72.8,124.2" stroke="#444" stroke-width="1.4" fill="none"/>
<path d="M81,132.4 A8.2,8.2 0 0 1 72.8,140.6" stroke="#444" stroke-width="1.4" fill="none"/>
<text transform="translate(75.8,132.4) rotate(-90)" text-anchor="middle" font-size="8.4" fill="#333" stroke="#333" stroke-width="0.1" textLength="3.6" lengthAdjust="spacingAndGlyphs">E</text>
<g stroke="#c4c4c4" stroke-width="0.8"><line x1="58.8" y1="199.4" x2="64.6" y2="199.4"/><line x1="81" y1="199.4" x2="86.8" y2="199.4"/><line x1="72.8" y1="185.4" x2="72.8" y2="191.2"/><line x1="72.8" y1="207.6" x2="72.8" y2="213.4"/></g>
<circle cx="72.8" cy="199.4" r="8.2" stroke="#c2c2c2" stroke-width="1.5" fill="#fff"/>
<path d="M64.6,199.4 A8.2,8.2 0 0 1 72.8,191.2" stroke="#444" stroke-width="1.4" fill="none"/>
<path d="M81,199.4 A8.2,8.2 0 0 1 72.8,207.6" stroke="#444" stroke-width="1.4" fill="none"/>
<text transform="translate(75.8,199.4) rotate(-90)" text-anchor="middle" font-size="8.4" fill="#333" stroke="#333" stroke-width="0.1" textLength="3.6" lengthAdjust="spacingAndGlyphs">C</text>
<g stroke="#c4c4c4" stroke-width="0.8"><line x1="58.8" y1="240.5" x2="64.6" y2="240.5"/><line x1="81" y1="240.5" x2="86.8" y2="240.5"/><line x1="72.8" y1="226.5" x2="72.8" y2="232.3"/><line x1="72.8" y1="248.7" x2="72.8" y2="254.5"/></g>
<circle cx="72.8" cy="240.5" r="8.2" stroke="#c2c2c2" stroke-width="1.5" fill="#fff"/>
<path d="M64.6,240.5 A8.2,8.2 0 0 1 72.8,232.3" stroke="#444" stroke-width="1.4" fill="none"/>
<path d="M81,240.5 A8.2,8.2 0 0 1 72.8,248.7" stroke="#444" stroke-width="1.4" fill="none"/>
<text transform="translate(75.8,240.5) rotate(-90)" text-anchor="middle" font-size="8.4" fill="#333" stroke="#333" stroke-width="0.1" textLength="3.6" lengthAdjust="spacingAndGlyphs">B</text>
<g stroke="#c4c4c4" stroke-width="0.8"><line x1="32.3" y1="267" x2="38.1" y2="267"/><line x1="54.5" y1="267" x2="60.3" y2="267"/><line x1="46.3" y1="253" x2="46.3" y2="258.8"/><line x1="46.3" y1="275.2" x2="46.3" y2="281"/></g>
<circle cx="46.3" cy="267" r="8.2" stroke="#c2c2c2" stroke-width="1.5" fill="#fff"/>
<path d="M38.1,267 A8.2,8.2 0 0 1 46.3,258.8" stroke="#444" stroke-width="1.4" fill="none"/>
<path d="M54.5,267 A8.2,8.2 0 0 1 46.3,275.2" stroke="#444" stroke-width="1.4" fill="none"/>
<text transform="translate(49.3,267) rotate(-90)" text-anchor="middle" font-size="8.4" fill="#333" stroke="#333" stroke-width="0.1" textLength="3.6" lengthAdjust="spacingAndGlyphs">G</text>
<g stroke="#c4c4c4" stroke-width="0.8"><line x1="58.8" y1="307.6" x2="64.6" y2="307.6"/><line x1="81" y1="307.6" x2="86.8" y2="307.6"/><line x1="72.8" y1="293.6" x2="72.8" y2="299.4"/><line x1="72.8" y1="315.8" x2="72.8" y2="321.6"/></g>
<circle cx="72.8" cy="307.6" r="8.2" stroke="#c2c2c2" stroke-width="1.5" fill="#fff"/>
<path d="M64.6,307.6 A8.2,8.2 0 0 1 72.8,299.4" stroke="#444" stroke-width="1.4" fill="none"/>
<path d="M81,307.6 A8.2,8.2 0 0 1 72.8,315.8" stroke="#444" stroke-width="1.4" fill="none"/>
<text transform="translate(75.8,307.6) rotate(-90)" text-anchor="middle" font-size="8.4" fill="#333" stroke="#333" stroke-width="0.1" textLength="3.6" lengthAdjust="spacingAndGlyphs">A</text>
<g stroke="#c4c4c4" stroke-width="0.8"><line x1="122.4" y1="390.3" x2="128.2" y2="390.3"/><line x1="144.6" y1="390.3" x2="150.4" y2="390.3"/><line x1="136.4" y1="376.3" x2="136.4" y2="382.1"/><line x1="136.4" y1="398.5" x2="136.4" y2="404.3"/></g>
<circle cx="136.4" cy="390.3" r="8.2" stroke="#c2c2c2" stroke-width="1.5" fill="#fff"/>
<path d="M136.4,382.1 A8.2,8.2 0 0 1 144.6,390.3" stroke="#444" stroke-width="1.4" fill="none"/>
<path d="M136.4,398.5 A8.2,8.2 0 0 1 128.2,390.3" stroke="#444" stroke-width="1.4" fill="none"/>
<text transform="translate(139.4,390.3) rotate(-90)" text-anchor="middle" font-size="8.4" fill="#333" stroke="#333" stroke-width="0.1" textLength="3.6" lengthAdjust="spacingAndGlyphs">1</text>
<g stroke="#c4c4c4" stroke-width="0.8"><line x1="162.4" y1="414" x2="168.2" y2="414"/><line x1="184.6" y1="414" x2="190.4" y2="414"/><line x1="176.4" y1="400" x2="176.4" y2="405.8"/><line x1="176.4" y1="422.2" x2="176.4" y2="428"/></g>
<circle cx="176.4" cy="414" r="8.2" stroke="#c2c2c2" stroke-width="1.5" fill="#fff"/>
<path d="M176.4,405.8 A8.2,8.2 0 0 1 184.6,414" stroke="#444" stroke-width="1.4" fill="none"/>
<path d="M176.4,422.2 A8.2,8.2 0 0 1 168.2,414" stroke="#444" stroke-width="1.4" fill="none"/>
<text transform="translate(179.4,414) rotate(-90)" text-anchor="middle" font-size="8.4" fill="#333" stroke="#333" stroke-width="0.1" textLength="6.0" lengthAdjust="spacingAndGlyphs">12</text>
<g stroke="#c4c4c4" stroke-width="0.8"><line x1="197.8" y1="390.3" x2="203.6" y2="390.3"/><line x1="220" y1="390.3" x2="225.8" y2="390.3"/><line x1="211.8" y1="376.3" x2="211.8" y2="382.1"/><line x1="211.8" y1="398.5" x2="211.8" y2="404.3"/></g>
<circle cx="211.8" cy="390.3" r="8.2" stroke="#c2c2c2" stroke-width="1.5" fill="#fff"/>
<path d="M211.8,382.1 A8.2,8.2 0 0 1 220,390.3" stroke="#444" stroke-width="1.4" fill="none"/>
<path d="M211.8,398.5 A8.2,8.2 0 0 1 203.6,390.3" stroke="#444" stroke-width="1.4" fill="none"/>
<text transform="translate(214.8,390.3) rotate(-90)" text-anchor="middle" font-size="8.4" fill="#333" stroke="#333" stroke-width="0.1" textLength="3.6" lengthAdjust="spacingAndGlyphs">2</text>
<g stroke="#c4c4c4" stroke-width="0.8"><line x1="268" y1="414" x2="273.8" y2="414"/><line x1="290.2" y1="414" x2="296" y2="414"/><line x1="282" y1="400" x2="282" y2="405.8"/><line x1="282" y1="422.2" x2="282" y2="428"/></g>
<circle cx="282" cy="414" r="8.2" stroke="#c2c2c2" stroke-width="1.5" fill="#fff"/>
<path d="M282,405.8 A8.2,8.2 0 0 1 290.2,414" stroke="#444" stroke-width="1.4" fill="none"/>
<path d="M282,422.2 A8.2,8.2 0 0 1 273.8,414" stroke="#444" stroke-width="1.4" fill="none"/>
<text transform="translate(285,414) rotate(-90)" text-anchor="middle" font-size="8.4" fill="#333" stroke="#333" stroke-width="0.1" textLength="6.0" lengthAdjust="spacingAndGlyphs">14</text>
<g stroke="#c4c4c4" stroke-width="0.8"><line x1="427" y1="390.2" x2="432.8" y2="390.2"/><line x1="449.2" y1="390.2" x2="455" y2="390.2"/><line x1="441" y1="376.2" x2="441" y2="382"/><line x1="441" y1="398.4" x2="441" y2="404.2"/></g>
<circle cx="441" cy="390.2" r="8.2" stroke="#c2c2c2" stroke-width="1.5" fill="#fff"/>
<path d="M441,382 A8.2,8.2 0 0 1 449.2,390.2" stroke="#444" stroke-width="1.4" fill="none"/>
<path d="M441,398.4 A8.2,8.2 0 0 1 432.8,390.2" stroke="#444" stroke-width="1.4" fill="none"/>
<text transform="translate(444,390.2) rotate(-90)" text-anchor="middle" font-size="8.4" fill="#333" stroke="#333" stroke-width="0.1" textLength="3.6" lengthAdjust="spacingAndGlyphs">6</text>
<g stroke="#c4c4c4" stroke-width="0.8"><line x1="548.4" y1="390.2" x2="554.2" y2="390.2"/><line x1="570.6" y1="390.2" x2="576.4" y2="390.2"/><line x1="562.4" y1="376.2" x2="562.4" y2="382"/><line x1="562.4" y1="398.4" x2="562.4" y2="404.2"/></g>
<circle cx="562.4" cy="390.2" r="8.2" stroke="#c2c2c2" stroke-width="1.5" fill="#fff"/>
<path d="M562.4,382 A8.2,8.2 0 0 1 570.6,390.2" stroke="#444" stroke-width="1.4" fill="none"/>
<path d="M562.4,398.4 A8.2,8.2 0 0 1 554.2,390.2" stroke="#444" stroke-width="1.4" fill="none"/>
<text transform="translate(565.4,390.2) rotate(-90)" text-anchor="middle" font-size="8.4" fill="#333" stroke="#333" stroke-width="0.1" textLength="3.6" lengthAdjust="spacingAndGlyphs">9</text>
<g stroke="#c4c4c4" stroke-width="0.8"><line x1="585.4" y1="390.2" x2="591.2" y2="390.2"/><line x1="607.6" y1="390.2" x2="613.4" y2="390.2"/><line x1="599.4" y1="376.2" x2="599.4" y2="382"/><line x1="599.4" y1="398.4" x2="599.4" y2="404.2"/></g>
<circle cx="599.4" cy="390.2" r="8.2" stroke="#c2c2c2" stroke-width="1.5" fill="#fff"/>
<path d="M599.4,382 A8.2,8.2 0 0 1 607.6,390.2" stroke="#444" stroke-width="1.4" fill="none"/>
<path d="M599.4,398.4 A8.2,8.2 0 0 1 591.2,390.2" stroke="#444" stroke-width="1.4" fill="none"/>
<text transform="translate(602.4,390.2) rotate(-90)" text-anchor="middle" font-size="8.4" fill="#333" stroke="#333" stroke-width="0.1" textLength="6.0" lengthAdjust="spacingAndGlyphs">10</text>
<g stroke="#c4c4c4" stroke-width="0.8"><line x1="639" y1="390.2" x2="644.8" y2="390.2"/><line x1="661.2" y1="390.2" x2="667" y2="390.2"/><line x1="653" y1="376.2" x2="653" y2="382"/><line x1="653" y1="398.4" x2="653" y2="404.2"/></g>
<circle cx="653" cy="390.2" r="8.2" stroke="#c2c2c2" stroke-width="1.5" fill="#fff"/>
<path d="M653,382 A8.2,8.2 0 0 1 661.2,390.2" stroke="#444" stroke-width="1.4" fill="none"/>
<path d="M653,398.4 A8.2,8.2 0 0 1 644.8,390.2" stroke="#444" stroke-width="1.4" fill="none"/>
<text transform="translate(656,390.2) rotate(-90)" text-anchor="middle" font-size="8.4" fill="#333" stroke="#333" stroke-width="0.1" textLength="6.0" lengthAdjust="spacingAndGlyphs">15</text>
<g stroke="#c4c4c4" stroke-width="0.8"><line x1="677.8" y1="390.2" x2="683.6" y2="390.2"/><line x1="700" y1="390.2" x2="705.8" y2="390.2"/><line x1="691.8" y1="376.2" x2="691.8" y2="382"/><line x1="691.8" y1="398.4" x2="691.8" y2="404.2"/></g>
<circle cx="691.8" cy="390.2" r="8.2" stroke="#c2c2c2" stroke-width="1.5" fill="#fff"/>
<path d="M691.8,382 A8.2,8.2 0 0 1 700,390.2" stroke="#444" stroke-width="1.4" fill="none"/>
<path d="M691.8,398.4 A8.2,8.2 0 0 1 683.6,390.2" stroke="#444" stroke-width="1.4" fill="none"/>
<text transform="translate(694.8,390.2) rotate(-90)" text-anchor="middle" font-size="8.4" fill="#333" stroke="#333" stroke-width="0.1" textLength="6.0" lengthAdjust="spacingAndGlyphs">11</text>
</svg></body></html>
